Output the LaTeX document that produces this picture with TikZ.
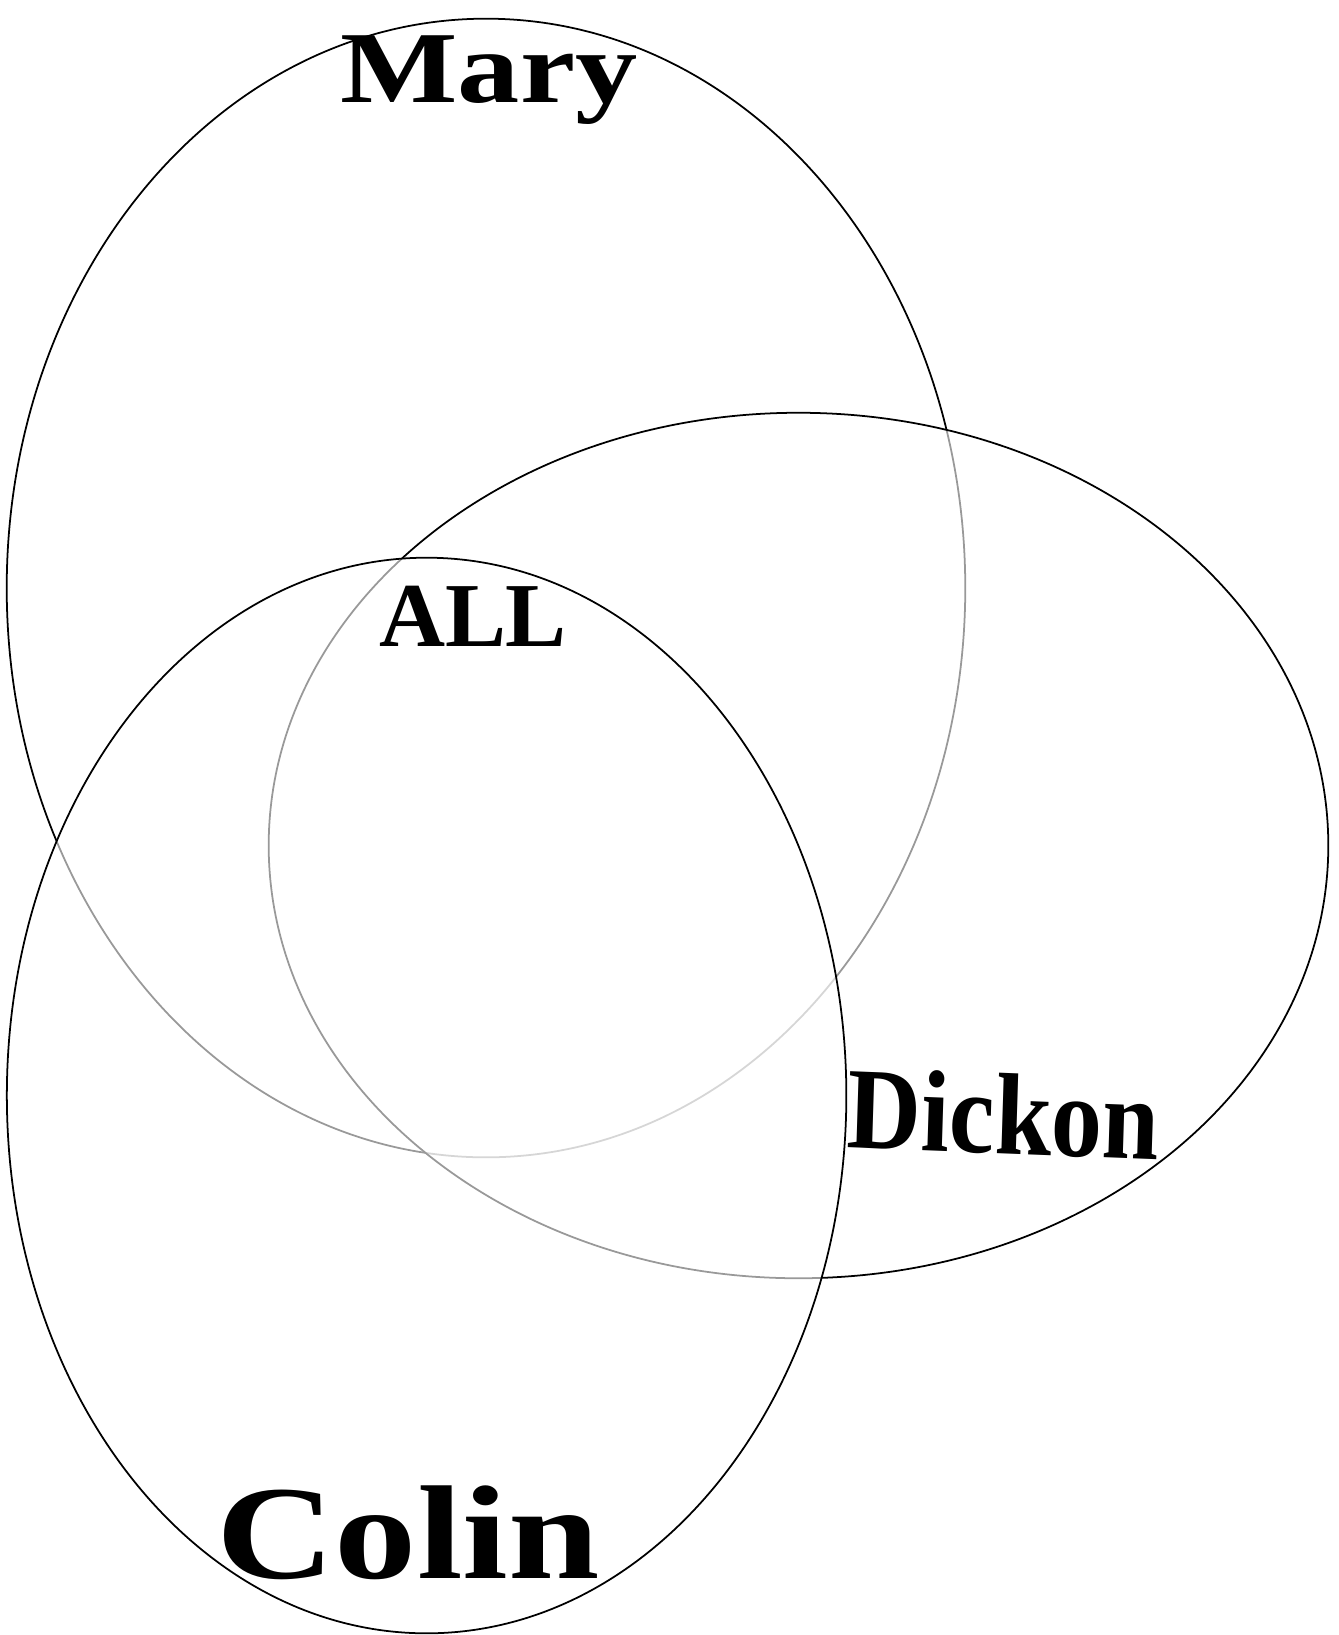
\documentclass[tikz,border=0pt]{standalone}
\usepackage{fontspec}
\setmainfont{Liberation Serif}
\usetikzlibrary{shapes.geometric}
\begin{document}
\begin{tikzpicture}[x=0.01cm,y=-0.01cm,
  set/.style={ellipse, draw=black, line width=0.5pt, inner sep=0pt},
  cover/.style={set, fill=white, fill opacity=0.6},
  lab/.style={font=\bfseries, text=black, inner sep=0pt}]
\useasboundingbox (0,0) rectangle (1338,1635);
\fill[white] (0,0) rectangle (1338,1635);
\node[set, minimum width=9.58cm, minimum height=11.38cm] (mary) at (486,588) {};
\node[cover, minimum width=10.59cm, minimum height=8.65cm] (dickon) at (798.5,845.5) {};
\node[cover, minimum width=8.39cm, minimum height=10.75cm] (colin) at (426.6,1095.5) {};
\node[lab, font=\bfseries\fontsize{29}{29}\selectfont, xscale=1.22] (tmary) at (489,80) {Mary};
\node[lab, font=\bfseries\fontsize{26}{26}\selectfont] (tall) at (473,616) {ALL};
\node[lab, font=\bfseries\fontsize{33}{33}\selectfont, xscale=0.88, rotate=-2] (tdickon) at (1004,1114) {Dickon};
\node[lab, font=\bfseries\fontsize{38}{38}\selectfont, xscale=1.23] (tcolin) at (408,1533) {Colin};
\end{tikzpicture}
\end{document}
